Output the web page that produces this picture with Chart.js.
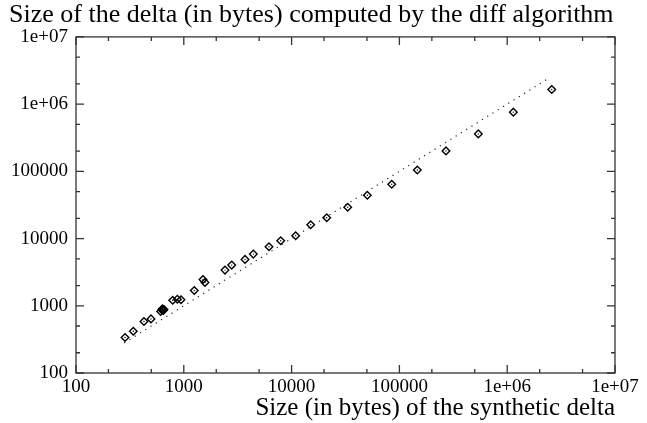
<!DOCTYPE html>
<html>
<head>
<meta charset="utf-8">
<script src="https://cdn.jsdelivr.net/npm/chart.js@4/dist/chart.umd.min.js"></script>
<style>
  html, body { margin: 0; padding: 0; background: #fff; }
  #wrap { width: 647px; height: 423px; position: relative; }
</style>
</head>
<body>
<div id="wrap"><canvas id="c"></canvas></div>
<script>
// ---- data ----
const syntheticSize = [285, 340, 427, 496, 610, 625, 635, 645, 655, 789, 871, 942, 1251, 1507, 1572, 2411, 2782, 3696, 4414, 6170, 7925, 10910, 15040, 21170, 33140, 50380, 84860, 146600, 270500, 539500, 1140000, 2590000];
const diffSize      = [337, 418, 583, 638, 820, 870, 905, 850, 880, 1211, 1254, 1230, 1690, 2466, 2224, 3393, 4029, 4898, 5875, 7547, 9272, 11010, 16060, 20420, 29170, 44050, 64240, 104900, 201400, 360800, 760000, 1650000];
const refLineX = [280, 2400000];
const refLineY = [280, 2400000];

const xTickValues = [100, 1000, 10000, 100000, 1000000, 10000000];
const xTickLabels = ["100", "1000", "10000", "100000", "1e+06", "1e+07"];
const yTickValues = [100, 1000, 10000, 100000, 1000000, 10000000];
const yTickLabels = ["100", "1000", "10000", "100000", "1e+06", "1e+07"];
const minorMultipliers = [2, 5];

const titleText = "Size of the delta (in bytes) computed by the diff algorithm";
const xTitleText = "Size (in bytes) of the synthetic delta";

const FONT = "'Liberation Serif', 'DejaVu Serif', serif";

const points = syntheticSize.map((x, i) => ({ x: x, y: diffSize[i] }));
const linePts = refLineX.map((x, i) => ({ x: x, y: refLineY[i] }));

const framePlugin = {
  id: 'frameTicks',
  afterDraw(chart) {
    const ctx = chart.ctx;
    const a = chart.chartArea;
    const xs = chart.scales.x, ys = chart.scales.y;
    ctx.save();
    ctx.strokeStyle = '#333';
    ctx.lineWidth = 1.3;
    ctx.strokeRect(a.left, a.top, a.right - a.left, a.bottom - a.top);
    const major = 8, minor = 4;
    ctx.beginPath();
    xTickValues.forEach((v, i) => {
      const p = xs.getPixelForValue(v);
      ctx.moveTo(p, a.bottom); ctx.lineTo(p, a.bottom - major);
      ctx.moveTo(p, a.top); ctx.lineTo(p, a.top + major);
      if (i < xTickValues.length - 1) {
        minorMultipliers.forEach(m => {
          const q = xs.getPixelForValue(v * m);
          ctx.moveTo(q, a.bottom); ctx.lineTo(q, a.bottom - minor);
          ctx.moveTo(q, a.top); ctx.lineTo(q, a.top + minor);
        });
      }
    });
    yTickValues.forEach((v, i) => {
      const p = ys.getPixelForValue(v);
      ctx.moveTo(a.left, p); ctx.lineTo(a.left + major, p);
      ctx.moveTo(a.right, p); ctx.lineTo(a.right - major, p);
      if (i < yTickValues.length - 1) {
        minorMultipliers.forEach(m => {
          const q = ys.getPixelForValue(v * m);
          ctx.moveTo(a.left, q); ctx.lineTo(a.left + minor, q);
          ctx.moveTo(a.right, q); ctx.lineTo(a.right - minor, q);
        });
      }
    });
    ctx.stroke();
    ctx.restore();
  }
};

new Chart(document.getElementById('c'), {
  type: 'scatter',
  data: {
    datasets: [
      {
        label: 'reference',
        data: linePts,
        showLine: true,
        borderColor: '#222',
        borderWidth: 1.2,
        borderDash: [1.2, 5],
        pointRadius: 0,
        fill: false
      },
      {
        label: 'delta',
        data: points,
        pointStyle: 'rectRot',
        pointRadius: 3.8,
        pointBorderWidth: 1.4,
        pointBorderColor: '#000',
        pointBackgroundColor: 'rgba(0,0,0,0)',
        showLine: false
      },
      {
        label: 'center',
        data: points,
        pointStyle: 'circle',
        pointRadius: 0.7,
        pointBorderWidth: 0,
        pointBackgroundColor: '#000',
        showLine: false
      }
    ]
  },
  options: {
    responsive: true,
    maintainAspectRatio: false,
    animation: false,
    devicePixelRatio: 1,
    layout: { padding: { left: 9, right: 32, top: 0, bottom: 0 } },
    plugins: {
      legend: { display: false },
      tooltip: { enabled: false },
      title: {
        display: true,
        text: titleText,
        align: 'start',
        color: '#000',
        font: { family: FONT, size: 26, weight: 'normal', lineHeight: 1.15 },
        padding: { top: 0, bottom: 7 }
      }
    },
    scales: {
      x: {
        type: 'logarithmic',
        min: 100,
        max: 10000000,
        grid: { display: false, drawTicks: false },
        border: { display: false },
        afterBuildTicks(scale) { scale.ticks = xTickValues.map(v => ({ value: v })); },
        afterFit(scale) { scale.height = 50; },
        ticks: {
          autoSkip: false,
          maxRotation: 0,
          padding: 3,
          color: '#000',
          font: { family: FONT, size: 19 },
          callback(value, index) { return xTickLabels[index]; }
        },
        title: {
          display: true,
          text: xTitleText,
          align: 'end',
          color: '#000',
          font: { family: FONT, size: 25, weight: 'normal', lineHeight: 1.05 },
          padding: { top: 0, bottom: 1 }
        }
      },
      y: {
        type: 'logarithmic',
        min: 100,
        max: 10000000,
        grid: { display: false, drawTicks: false },
        border: { display: false },
        afterBuildTicks(scale) { scale.ticks = yTickValues.map(v => ({ value: v })); },
        afterFit(scale) { scale.width = 67; },
        ticks: {
          autoSkip: false,
          padding: 8,
          color: '#000',
          font: { family: FONT, size: 19 },
          callback(value, index) { return yTickLabels[index]; }
        }
      }
    }
  },
  plugins: [framePlugin]
});
</script>
</body>
</html>
